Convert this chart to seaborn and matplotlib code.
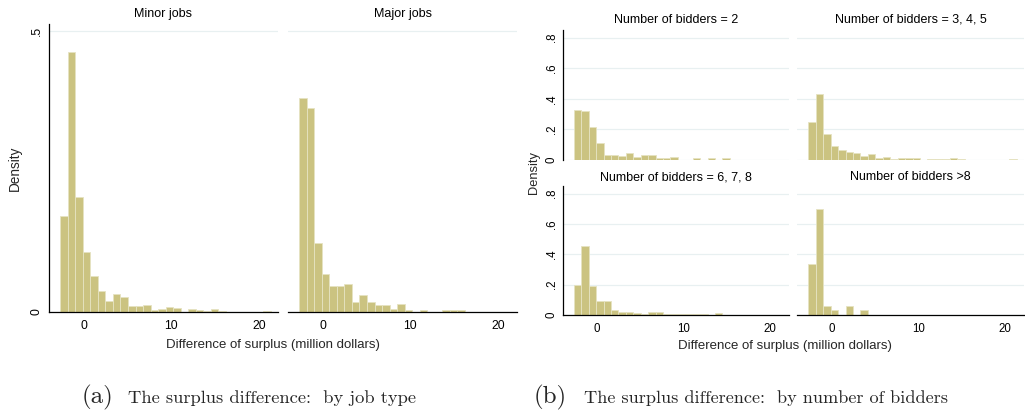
import numpy as np
import pandas as pd
import matplotlib
matplotlib.use("Agg")
import matplotlib.pyplot as plt
import seaborn as sns

# ---------------- data (densities per histogram bin) ----------------
BIN_START = -2.7
BIN_WIDTH = 0.86
N_BINS = 28

minor_jobs = [0.170, 0.462, 0.204, 0.106, 0.064, 0.037, 0.020, 0.032, 0.027, 0.010,
              0.010, 0.012, 0.004, 0.006, 0.009, 0.008, 0.000, 0.005, 0.004, 0.002,
              0.006, 0.002, 0.000, 0.000, 0.000, 0.000, 0.000, 0.002]
major_jobs = [0.381, 0.363, 0.123, 0.068, 0.046, 0.046, 0.049, 0.018, 0.030, 0.018,
              0.012, 0.012, 0.006, 0.015, 0.004, 0.000, 0.004, 0.000, 0.000, 0.004,
              0.004, 0.004, 0.000, 0.000, 0.000, 0.000, 0.000, 0.000]
bidders_2 = [0.330, 0.322, 0.215, 0.111, 0.033, 0.033, 0.026, 0.046, 0.020, 0.033,
             0.033, 0.015, 0.015, 0.022, 0.000, 0.000, 0.013, 0.000, 0.013, 0.000,
             0.013, 0.000, 0.000, 0.000, 0.000, 0.000, 0.000, 0.000]
bidders_345 = [0.248, 0.430, 0.170, 0.093, 0.063, 0.052, 0.046, 0.028, 0.041, 0.011,
               0.017, 0.009, 0.015, 0.015, 0.011, 0.000, 0.009, 0.009, 0.009, 0.011,
               0.009, 0.000, 0.000, 0.000, 0.000, 0.000, 0.000, 0.009]
bidders_678 = [0.197, 0.454, 0.191, 0.092, 0.092, 0.033, 0.020, 0.020, 0.013, 0.009,
               0.020, 0.020, 0.007, 0.007, 0.007, 0.007, 0.007, 0.007, 0.000, 0.015,
               0.000, 0.000, 0.000, 0.000, 0.000, 0.000, 0.000, 0.000]
bidders_gt8 = [0.333, 0.697, 0.059, 0.031, 0.000, 0.059, 0.000, 0.031, 0.000, 0.000,
               0.000, 0.000, 0.000, 0.000, 0.000, 0.000, 0.000, 0.000, 0.000, 0.000,
               0.000, 0.000, 0.000, 0.000, 0.000, 0.000, 0.000, 0.000]

panel_titles_a = ["Minor jobs", "Major jobs"]
panel_titles_b = ["Number of bidders = 2", "Number of bidders = 3, 4, 5",
                  "Number of bidders = 6, 7, 8", "Number of bidders >8"]
x_ticks = [0, 10, 20]
x_tick_labels = ["0", "10", "20"]
y_ticks_a = [0, 0.5]
y_tick_labels_a = ["0", ".5"]
y_ticks_b = [0, 0.2, 0.4, 0.6, 0.8]
y_tick_labels_b = ["0", ".2", ".4", ".6", ".8"]
x_label = "Difference of surplus (million dollars)"
y_label = "Density"
caption_a = ("(a)", "The surplus difference:  by job type")
caption_b = ("(b)", "The surplus difference:  by number of bidders")

bin_edges = [float(BIN_START + BIN_WIDTH * i) for i in range(N_BINS + 1)]
bin_centers = [0.5 * (bin_edges[i] + bin_edges[i + 1]) for i in range(N_BINS)]

# ---------------- style ----------------
sns.set_style("white")
plt.rcParams["font.family"] = ["Liberation Sans", "DejaVu Sans"]

BAR = "#cbc381"
EDGE = "#e6e3c2"
GRID = "#e8f0f1"

W, H = 1025, 411
fig = plt.figure(figsize=(W / 100, H / 100), dpi=100)


def px_rect(x0, y0, x1, y1):
    return [x0 / W, 1 - y1 / H, (x1 - x0) / W, (y1 - y0) / H]


def panel(rect, values, title, ylim, yticks, yticklabels, show_y, show_x,
          title_y, ypad, tsize):
    ax = fig.add_axes(px_rect(*rect))
    df = pd.DataFrame({"center": bin_centers, "density": values})
    sns.histplot(data=df, x="center", weights="density", bins=bin_edges,
                 stat="count", color=BAR, edgecolor=EDGE, linewidth=0.6,
                 alpha=1, ax=ax)
    ax.set_xlim(-4, 22.2)
    ax.set_ylim(*ylim)
    ax.set_xlabel("")
    ax.set_ylabel("")
    ax.set_yticks(yticks)
    ax.set_yticklabels(yticklabels)
    ax.set_xticks(x_ticks)
    ax.set_xticklabels(x_tick_labels)
    ax.set_axisbelow(True)
    ax.yaxis.grid(True, color=GRID, linewidth=0.9)
    ax.xaxis.grid(False)
    for s in ["top", "right"]:
        ax.spines[s].set_visible(False)
    for s in ["left", "bottom"]:
        ax.spines[s].set_color("black")
        ax.spines[s].set_linewidth(0.9)
    ax.tick_params(axis="y", direction="out", length=3.2, width=0.8,
                   pad=ypad, labelsize=tsize, labelrotation=90, colors="black")
    ax.tick_params(axis="x", direction="out", length=3, width=0.8,
                   pad=2.5, labelsize=tsize, colors="black")
    for lab in ax.get_yticklabels():
        lab.set_va("center")
    if not show_y:
        ax.spines["left"].set_visible(False)
        ax.tick_params(axis="y", length=0, labelleft=False)
    if not show_x:
        ax.spines["bottom"].set_visible(False)
        ax.tick_params(axis="x", length=0, labelbottom=False)
    cx = (rect[0] + rect[2]) / 2
    fig.text(cx / W, 1 - title_y / H, title, ha="center", va="center",
             fontsize=9, color="black")
    return ax


# ---- figure (a) ----
ylim_a = (0, 0.5125)
panel((49, 24, 278, 312), minor_jobs, panel_titles_a[0], ylim_a, y_ticks_a,
      y_tick_labels_a, True, True, 14, 1.5, 8.8)
panel((288, 24, 517, 312), major_jobs, panel_titles_a[1], ylim_a, y_ticks_a,
      y_tick_labels_a, False, True, 14, 1.5, 8.8)
fig.text(15 / W, 1 - 168 / H, y_label, rotation=90, ha="center", va="center",
         fontsize=9.8)
fig.text(273 / W, 1 - 345 / H, x_label, ha="center", va="center", fontsize=9.5)

# ---- figure (b) ----
ylim_b = (0, 0.85)
panel((562.7, 30, 789, 160), bidders_2, panel_titles_b[0], ylim_b, y_ticks_b,
      y_tick_labels_b, True, False, 20, 0.5, 8.3)
panel((797, 30, 1024, 160), bidders_345, panel_titles_b[1], ylim_b, y_ticks_b,
      y_tick_labels_b, False, False, 20, 0.5, 8.3)
panel((562.7, 186, 789, 315), bidders_678, panel_titles_b[2], ylim_b, y_ticks_b,
      y_tick_labels_b, True, True, 177, 0.5, 8.3)
panel((797, 186, 1024, 315), bidders_gt8, panel_titles_b[3], ylim_b, y_ticks_b,
      y_tick_labels_b, False, True, 177, 0.5, 8.3)
fig.text(534 / W, 1 - 172 / H, y_label, rotation=90, ha="center", va="center",
         fontsize=9.3)
fig.text(785 / W, 1 - 346 / H, x_label, ha="center", va="center", fontsize=9.5)

# ---- captions ----
CAP_FONT = ["cmr10", "DejaVu Serif"]
fig.text(82 / W, 1 - 397 / H, caption_a[0], ha="left", va="center",
         fontsize=18, family=CAP_FONT)
fig.text(128 / W, 1 - 398 / H, caption_a[1], ha="left", va="center",
         fontsize=13.3, family=CAP_FONT)
fig.text(534 / W, 1 - 397 / H, caption_b[0], ha="left", va="center",
         fontsize=18, family=CAP_FONT)
fig.text(584 / W, 1 - 398 / H, caption_b[1], ha="left", va="center",
         fontsize=13.1, family=CAP_FONT)

fig.savefig("out.png", dpi=100, facecolor="white")
